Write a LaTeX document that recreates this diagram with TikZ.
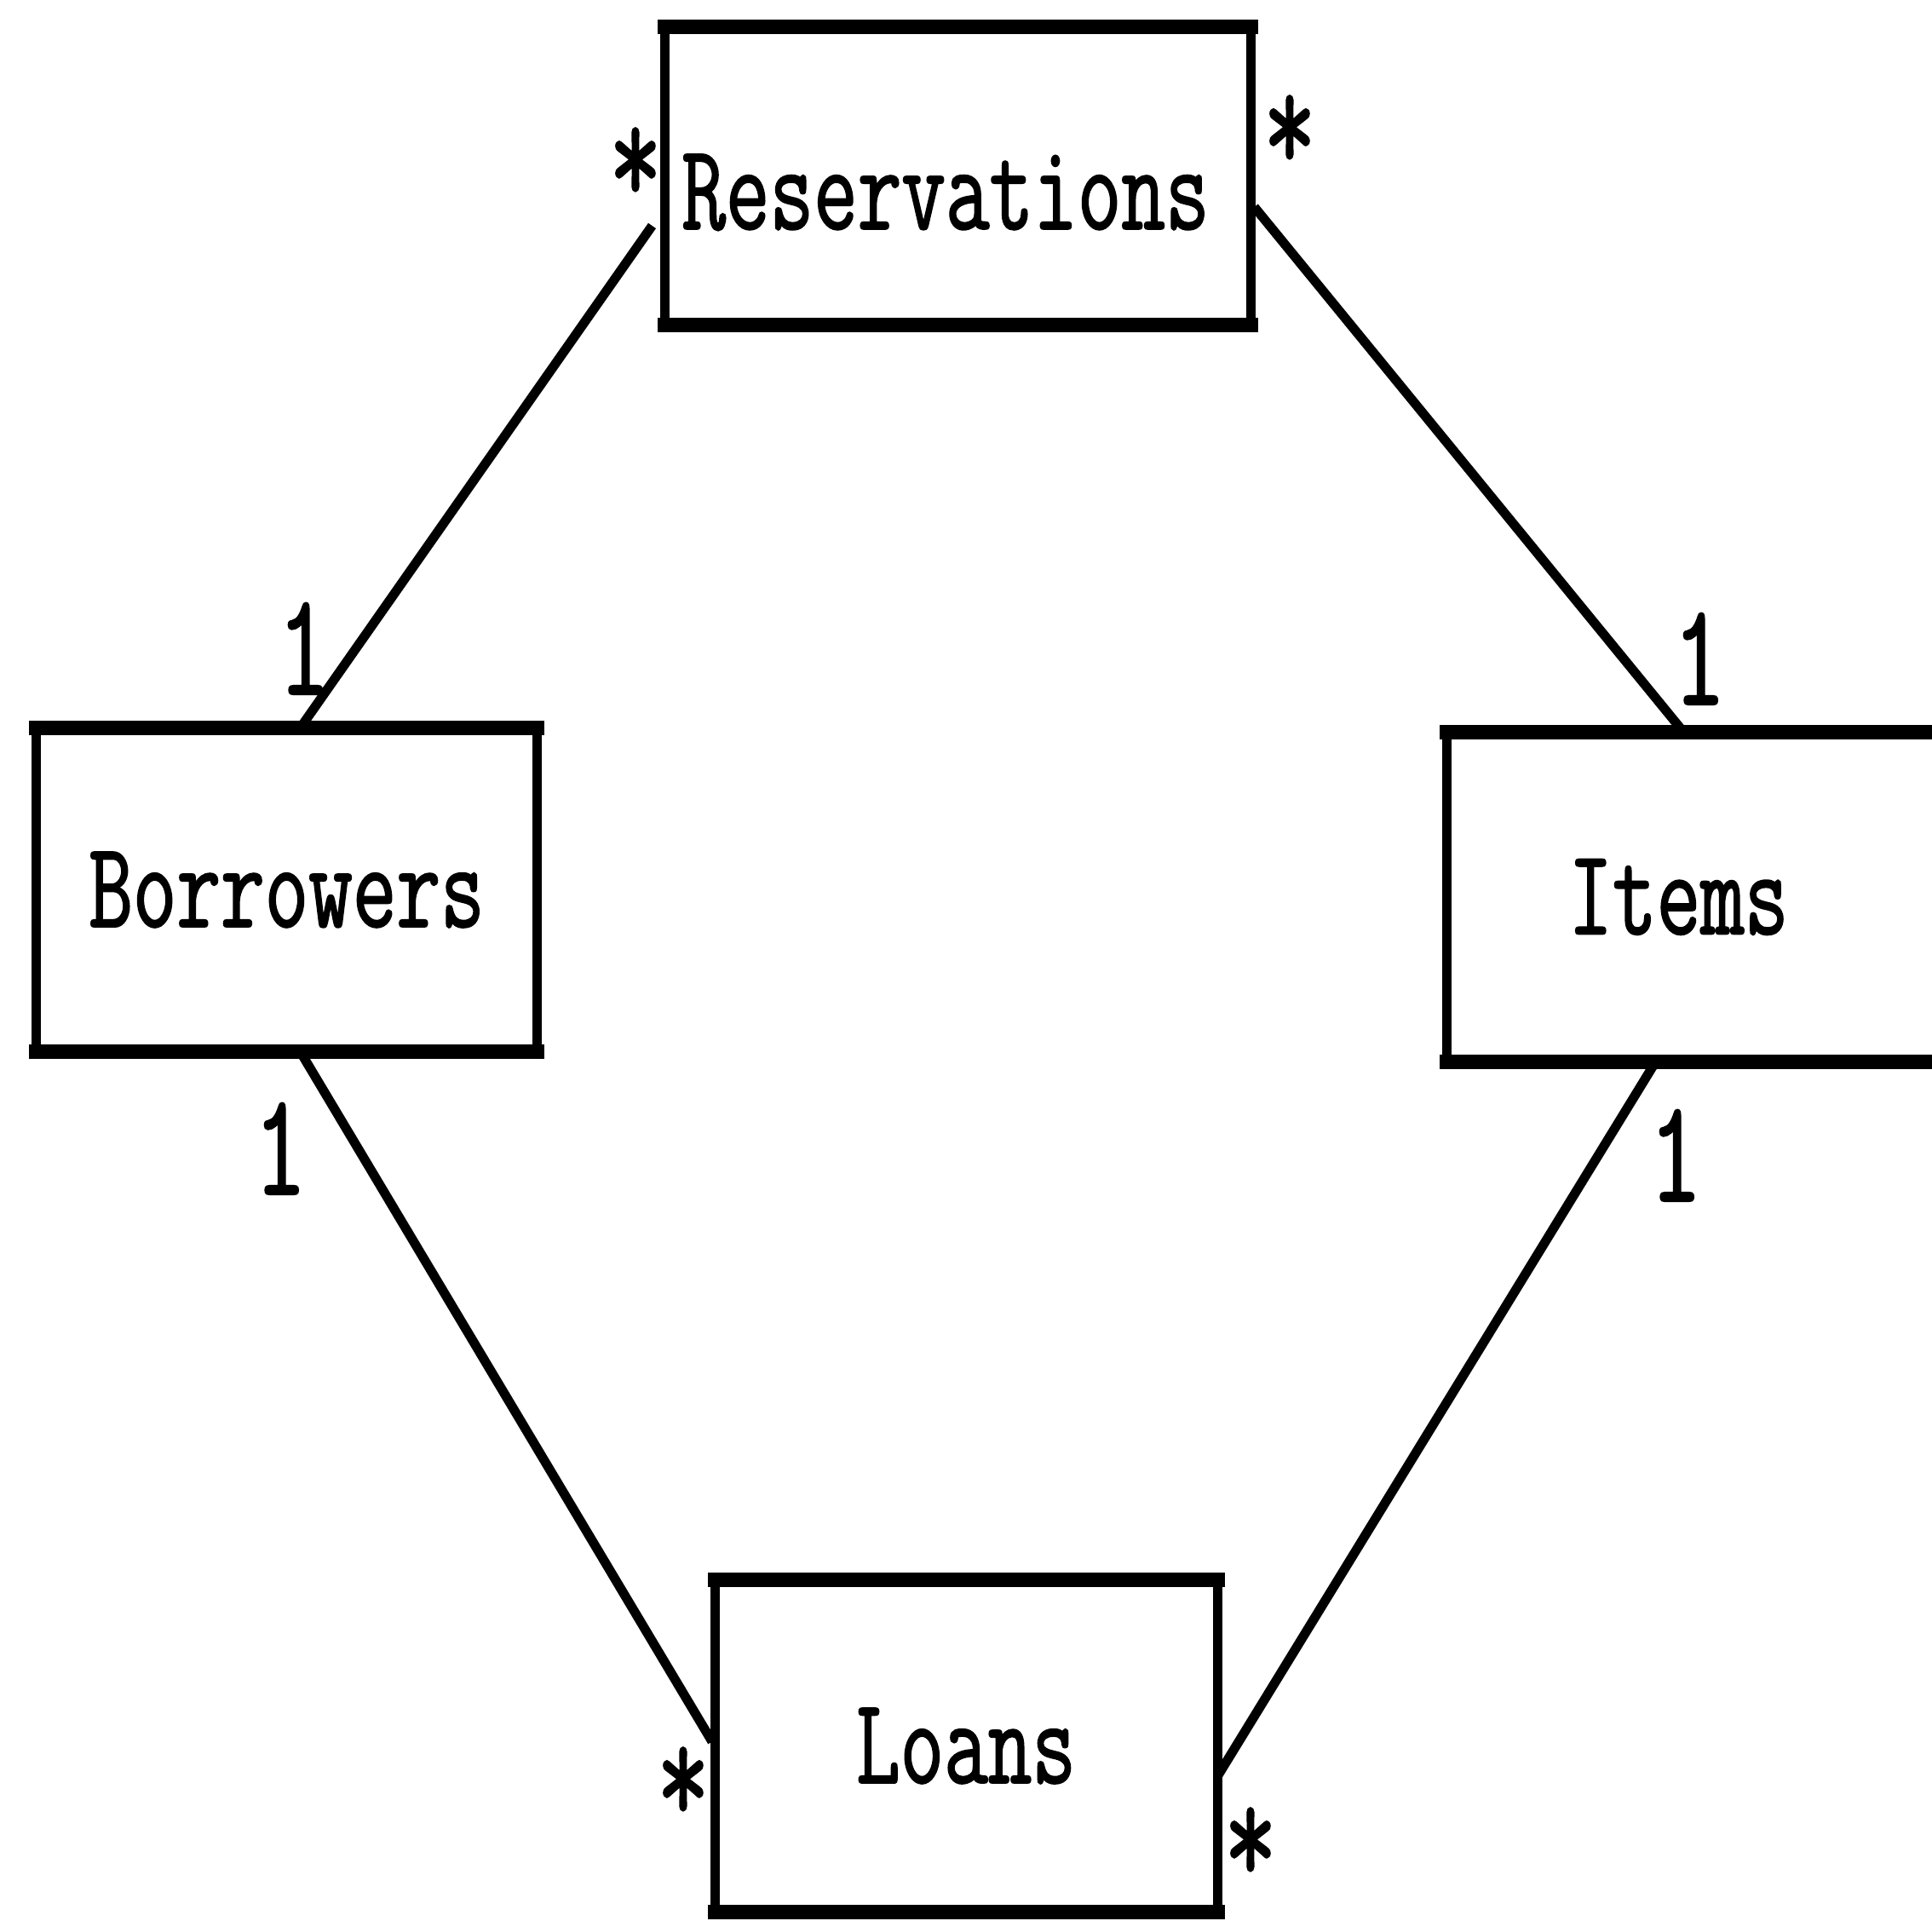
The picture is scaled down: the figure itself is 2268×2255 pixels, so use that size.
\documentclass[tikz,border=0pt]{standalone}
\usepackage{fontspec}
\usetikzlibrary{calc}
\newfontfamily\typefont[FakeStretch=0.695, FakeBold=1.2]{Latin Modern Mono}
\begin{document}
\begin{tikzpicture}[x=0.01cm, y=-0.01cm,
  entity/.style={draw, line width=11*0.01cm, rectangle, inner sep=0pt, outer sep=0pt,
    font=\typefont\fontsize{41}{48}\selectfont},
  heavyedge/.style={line width=17*0.01cm, line cap=rect},
  link/.style={line width=11*0.01cm},
  mult/.style={inner sep=0pt, anchor=base, font=\typefont\fontsize{49}{56}\selectfont}]
\useasboundingbox (0,0) rectangle (2268,2255);
\clip (0,0) rectangle (2268,2255);

% entities
\node[entity, minimum width=688*0.01cm, minimum height=350*0.01cm,
      text height=1.24cm, text depth=0pt] (res) at (1124.5,207) {Reservations\kern0.29cm};
\node[entity, minimum width=588*0.01cm, minimum height=380*0.01cm] (bor) at (336.5,1044.5) {Borrowers};
\node[entity, minimum width=590*0.01cm, minimum height=387*0.01cm] (itm) at (1993.5,1053) {Items\kern0.46cm};
\node[entity, minimum width=590*0.01cm, minimum height=390*0.01cm] (loa) at (1134,2049.5) {Loans};

% heavier top and bottom edges
\foreach \n in {res,bor,itm,loa}
  \draw[heavyedge] (\n.north west) -- (\n.north east) (\n.south west) -- (\n.south east);

% associations
\draw[link] ($(bor.north)+(16,0)$) -- ($(res.west)+(-15,58)$);
\draw[link] ($(res.east)+(4,36)$) -- ($(itm.north)+(-17,0)$);
\draw[link] ($(bor.south)+(16,0)$) -- ($(loa.west)+(-3,-5)$);
\draw[link] ($(itm.south)+(-50,0)$) -- ($(loa.east)+(0,36)$);

% multiplicities
\node[mult] (m1) at (746,240) {*};
\node[mult] (m2) at (1514,202) {*};
\node[mult] (m3) at (357,815) {1};
\node[mult] (m4) at (1995,827) {1};
\node[mult] (m5) at (329,1402) {1};
\node[mult] (m6) at (1967,1410) {1};
\node[mult] (m7) at (802,2141) {*};
\node[mult] (m8) at (1468,2212) {*};
\end{tikzpicture}
\end{document}
